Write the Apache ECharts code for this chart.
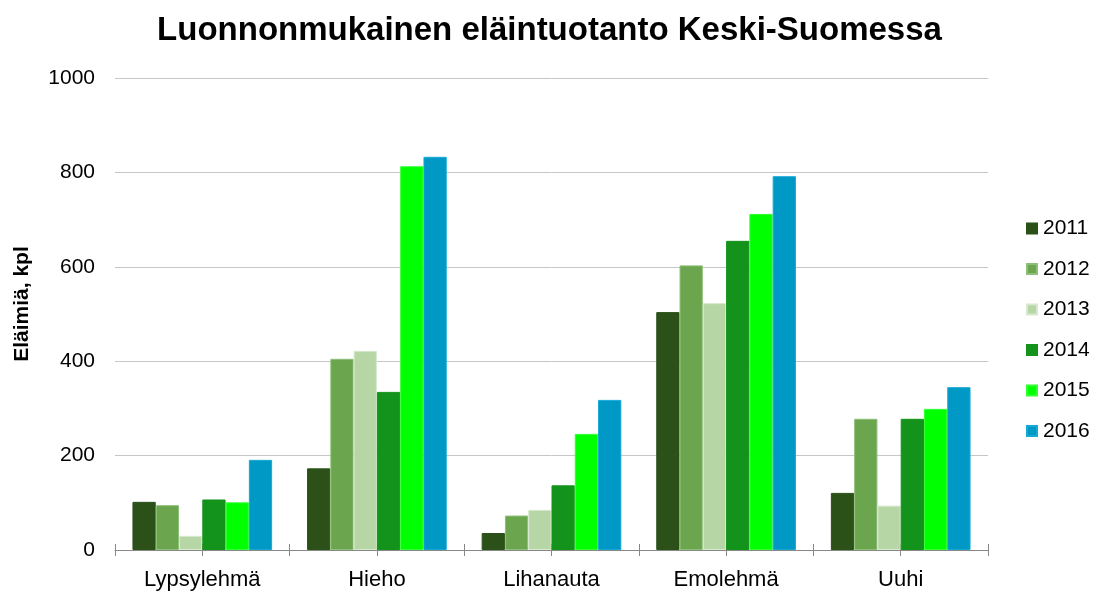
<!DOCTYPE html>
<html>
<head>
<meta charset="utf-8">
<script src="https://cdn.jsdelivr.net/npm/echarts@6/dist/echarts.min.js"></script>
<style>
html,body{margin:0;padding:0;background:#fff;}
#chart{width:1099px;height:592px;}
</style>
</head>
<body>
<div id="chart"></div>
<script>
// data
var categories = ['Lypsylehmä', 'Hieho', 'Lihanauta', 'Emolehmä', 'Uuhi'];
var years = ['2011', '2012', '2013', '2014', '2015', '2016'];
var v2011 = [102, 173, 36, 504, 121];
var v2012 = [95, 405, 73, 603, 278];
var v2013 = [30, 422, 85, 523, 94];
var v2014 = [107, 335, 137, 655, 278];
var v2015 = [101, 813, 246, 712, 299];
var v2016 = [191, 833, 318, 792, 345];
var yTicks = [0, 200, 400, 600, 800, 1000];

var values = [v2011, v2012, v2013, v2014, v2015, v2016];
var colors = ['#2b5118', '#6ba64f', '#b7d6a6', '#13931b', '#00ff00', '#0098c4'];
var borders = ['#2b5118', '#8dbf76', '#d6e8cd', '#13931b', '#33ff33', '#17a9d6'];

var font = '"Liberation Sans", Arial, sans-serif';
var myChart = echarts.init(document.getElementById('chart'));

var series = [];
for (var i = 0; i < years.length; i++) {
    series.push({
        name: years[i],
        type: 'bar',
        data: values[i],
        barGap: '0%',
        barCategoryGap: '20%',
        itemStyle: {color: colors[i], borderColor: borders[i], borderWidth: 1},
        emphasis: {disabled: true}
    });
}

var option = {
    animation: false,
    backgroundColor: '#fff',
    textStyle: {fontFamily: font},
    title: {
        text: 'Luonnonmukainen eläintuotanto Keski-Suomessa',
        left: 'center',
        top: 9,
        textStyle: {fontFamily: font, fontSize: 33, fontWeight: 'bold', color: '#000'}
    },
    legend: {
        orient: 'vertical',
        left: 1021,
        top: 213,
        itemWidth: 10,
        itemHeight: 10,
        itemGap: 19.5,
        icon: 'rect',
        data: years,
        textStyle: {fontFamily: font, fontSize: 21, color: '#000', padding: [0, 0, 0, 1]}
    },
    grid: {left: 115, right: 111, top: 78, bottom: 42, outerBoundsMode: 'none', containLabel: false},
    xAxis: [{
        type: 'category',
        data: categories,
        axisLine: {lineStyle: {color: '#888', width: 1}},
        axisTick: {show: false},
        axisLabel: {fontFamily: font, fontSize: 22, color: '#000', margin: 19}
    }, {
        // tick marks at every half category, below the axis line
        type: 'value', min: 0, max: 10, interval: 1, position: 'bottom',
        axisLine: {show: false}, axisLabel: {show: false}, splitLine: {show: false},
        axisTick: {show: true, length: 6, inside: false, lineStyle: {color: '#888'}}
    }, {
        // and above it
        type: 'value', min: 0, max: 10, interval: 1, position: 'bottom',
        axisLine: {show: false}, axisLabel: {show: false}, splitLine: {show: false},
        axisTick: {show: true, length: 6, inside: true, lineStyle: {color: '#888'}}
    }],
    yAxis: {
        type: 'value',
        min: 0,
        max: 1000,
        interval: 200,
        name: 'Eläimiä, kpl',
        nameLocation: 'middle',
        nameGap: 82,
        nameRotate: 90,
        nameTextStyle: {fontFamily: font, fontSize: 21, fontWeight: 'bold', color: '#000', padding: [0, 0, 0, 20]},
        axisLine: {show: false},
        axisTick: {show: false},
        axisLabel: {
            fontFamily: font, fontSize: 21, color: '#000', margin: 20,
            formatter: function(v){ return yTicks.indexOf(v) >= 0 ? String(v) : ''; }
        },
        splitLine: {lineStyle: {color: '#c6c6c6', width: 1}}
    },
    series: series
};
myChart.setOption(option);
</script>
</body>
</html>
